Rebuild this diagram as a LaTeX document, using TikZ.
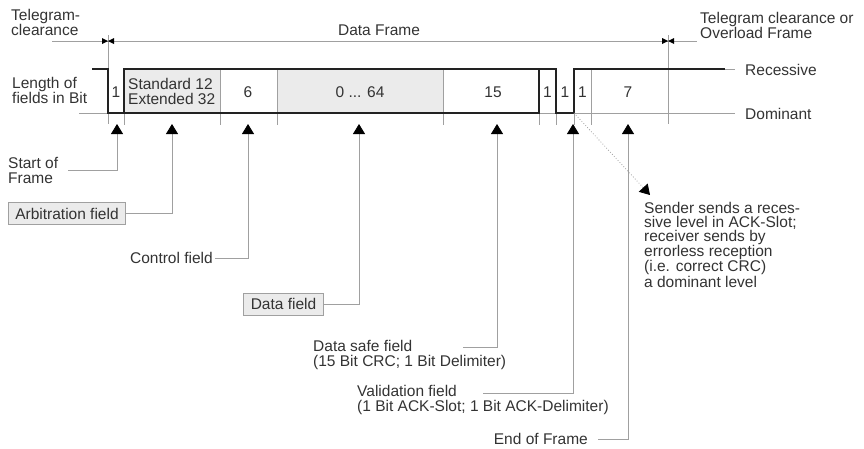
\documentclass[tikz,border=0pt]{standalone}
\usepackage{fontspec}
\setmainfont{Liberation Sans}
\usetikzlibrary{arrows.meta,positioning,calc}
\definecolor{InkGrey}{HTML}{333333}
\definecolor{RuleGrey}{HTML}{A0A0A0}
\definecolor{FieldGrey}{HTML}{EBEBEB}
\definecolor{WireBlack}{HTML}{222222}

\begin{document}
\begin{tikzpicture}[x=1pt,y=-1pt,
    every node/.style={font=\fontsize{15.5}{15}\selectfont,text=InkGrey,inner sep=0pt},
    lbl/.style={align=left,anchor=west},
    tag/.style={draw=RuleGrey,fill=FieldGrey,inner xsep=7pt,minimum height=22pt,line width=0.8pt},
    thin/.style={RuleGrey,line width=0.8pt},
    sig/.style={WireBlack,line width=2pt},
    ptr/.style={RuleGrey,line width=0.8pt,-{Triangle[width=12pt,length=10pt,color=black]}}
  ]
    \useasboundingbox (0,0) rectangle (864,448);
    \draw[thin] (52,41) -- (697,41);
    \foreach \x in {108,668} {
      \draw[thin] (\x,35) -- (\x,124);
      \fill[black] (\x-6,38) -- (\x,41) -- (\x-6,44) -- cycle;
      \fill[black] (\x+6,38) -- (\x,41) -- (\x+6,44) -- cycle;
    }
    \node[lbl] (gapl) at (11,22) {Telegram-\\clearance};
    \node (frame) at (379,30) {Data Frame};
    \node[lbl] (gapr) at (700,25) {Telegram clearance or\\Overload Frame};

    \fill[FieldGrey] (124,69) rectangle (220,113);
    \fill[FieldGrey] (277,69) rectangle (443,113);
    \foreach \x in {124,220,277,443,539,556,574,591}
      \draw[thin] (\x,69) -- (\x,125);
    \draw[thin] (79,113) -- (735,113);
    \draw[thin] (725,69) -- (735,69);
    \draw[sig] (92,69) -| (108,113) -- (539,113) |- (556,69) |- (574,113) |- (725,69);
    \draw[sig] (124,113) |- (539,69);

    \node[lbl] (len) at (12,90) {Length of\\fields in Bit};
    \node (bsof) at (116,92) {1};
    \node[lbl] (bid) at (128,91) {Standard 12\\Extended 32};
    \node (bctl) at (248,92) {6};
    \node (bdat) at (360,92) {0 ... 64};
    \node (bcrc) at (493,92) {15};
    \node (bdel) at (547.5,92) {1};
    \node (bslt) at (565,92) {1};
    \node (badl) at (582.5,92) {1};
    \node (beof) at (628,92) {7};
    \node[lbl] (rec) at (745,70) {Recessive};
    \node[lbl] (dom) at (745,114) {Dominant};

    \foreach \n/\x in {sof/117,arb/172,ctl/248,dat/359,crc/497,ack/573,eof/628}
      \coordinate (\n A) at (\x,124);
    \coordinate (slot) at (574,113);
    \coordinate (crcL) at (463,347);
    \coordinate (ackL) at (483,393);

    \node[lbl] (sof) at (8,170) {Start of\\Frame};
    \node[tag] (arb) at (67,213.5) {Arbitration field};
    \node[anchor=east] (ctl) at (213,258) {Control field};
    \node[tag] (dat) at (283.5,304) {Data field};
    \node[lbl] (crc) at (313,355) {Data safe field\\(15 Bit CRC; 1 Bit Delimiter)};
    \node[lbl] (ack) at (357,400) {Validation field\\(1 Bit ACK-Slot; 1 Bit ACK-Delimiter)};
    \node[anchor=east] (eof) at (588,439) {End of Frame};
    \node[lbl,anchor=north west,font=\fontsize{15.5}{13.8}\selectfont] (note) at (644,202)
      {Sender sends a reces-\\sive level in ACK-Slot;\\receiver sends by\\errorless reception\\(i.e. correct CRC)\\a dominant level};

    \draw[ptr] ([xshift=10pt]sof.east) -| (sofA);
    \draw[ptr] (arb.east) -| (arbA);
    \draw[ptr] ([xshift=2pt]ctl.east) -| (ctlA);
    \draw[ptr] (dat.east) -| (datA);
    \draw[ptr] (crcL) -| (crcA);
    \draw[ptr] (ackL) -| (ackA);
    \draw[ptr] ([xshift=10pt]eof.east) -| (eofA);
    \draw[ptr,dotted] (slot) -- ([shift={(6,-7)}]note.north west);
\end{tikzpicture}
\end{document}
